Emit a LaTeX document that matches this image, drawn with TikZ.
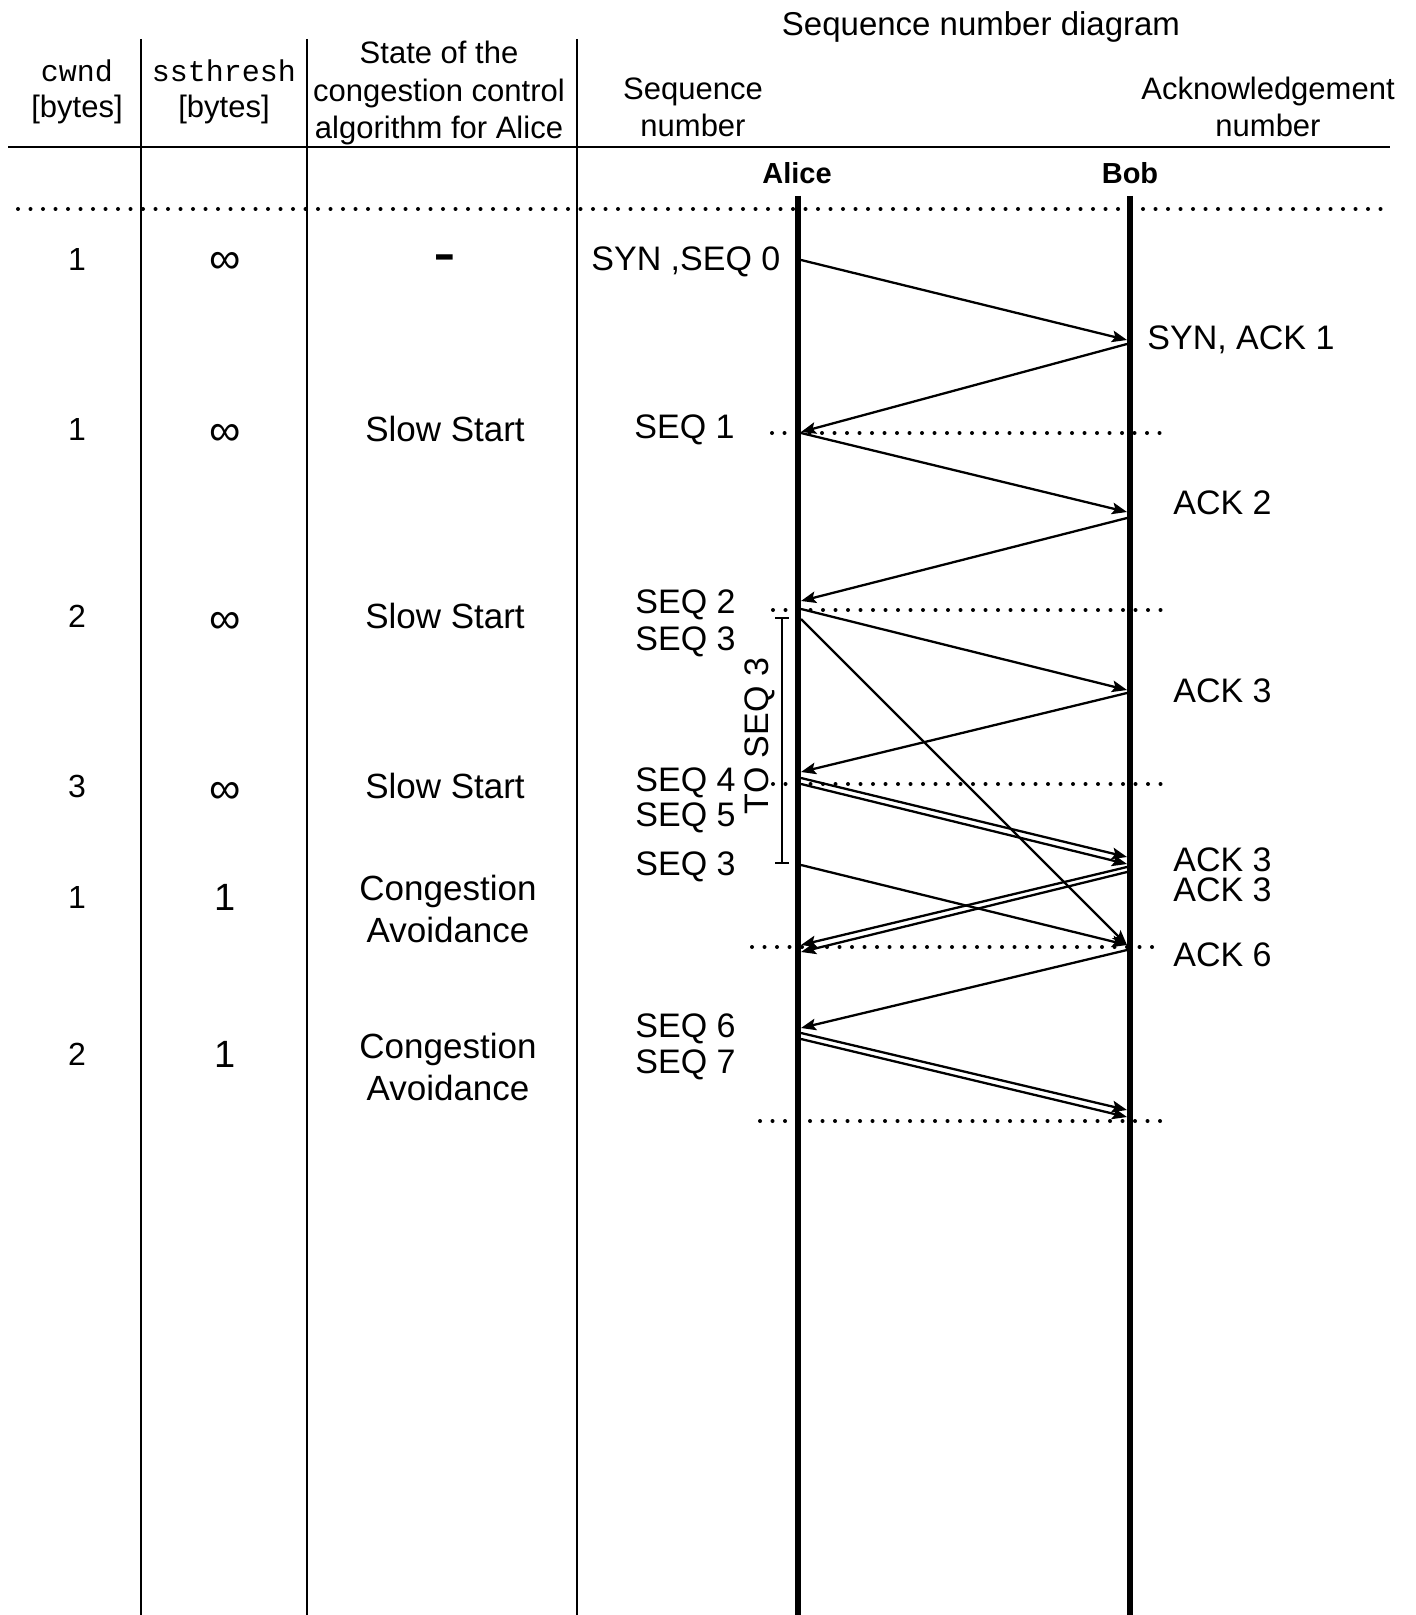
\documentclass[tikz,border=0pt]{standalone}
\usepackage{fontspec}
\setmainfont{Liberation Sans}
\setmonofont{Liberation Mono}
\usetikzlibrary{arrows.meta}
\begin{document}
\begin{tikzpicture}[x=0.5pt,y=-0.5pt,
  colline/.style={line width=1.3pt},
  life/.style={line width=3pt},
  dotrow/.style={line width=2pt, line cap=round, dash pattern=on 0pt off 6.25pt},
  msg/.style={line width=1.15pt, -{Stealth[length=7.5pt,width=5.8pt,inset=1.5pt]}},
  brk/.style={line width=1.1pt, {Bar[width=7pt]}-{Bar[width=7pt]}},
  lbl/.style={font=\fontsize{17}{20}\selectfont, inner sep=0pt},
  hdr/.style={font=\fontsize{15.5}{18.75}\selectfont, align=center, inner sep=0pt},
  hdrtwo/.style={font=\fontsize{15.5}{18.5}\selectfont, align=center, inner sep=0pt},
  monohdr/.style={font=\fontsize{15.5}{18}\selectfont, align=center, inner sep=0pt},
  ttl/.style={font=\fontsize{16.5}{20}\selectfont, inner sep=0pt},
  who/.style={font=\fontsize{14.5}{17}\selectfont\bfseries, inner sep=0pt},
  num/.style={font=\fontsize{16}{19}\selectfont, inner sep=0pt},
  inf/.style={font=\fontsize{22}{24}\selectfont, inner sep=0pt},
  bignum/.style={font=\fontsize{19}{22}\selectfont, inner sep=0pt},
  state/.style={font=\fontsize{17.5}{21}\selectfont, align=center, inner sep=0pt},
  seqlbl/.style={lbl, anchor=west},
  acklbl/.style={lbl, anchor=west}
]
\useasboundingbox (0,0) rectangle (1416,1615);

% ---- table frame ----
\coordinate (c1t) at (141,39);  \coordinate (c1b) at (141,1615);
\coordinate (c2t) at (307,39);  \coordinate (c2b) at (307,1615);
\coordinate (c3t) at (577,39);  \coordinate (c3b) at (577,1615);
\draw[colline] (c1t) -- (c1b);
\draw[colline] (c2t) -- (c2b);
\draw[colline] (c3t) -- (c3b);
\coordinate (hl) at (8,147);  \coordinate (hr) at (1390,147);
\draw[colline] (hl) -- (hr);
\coordinate (dl) at (18,209); \coordinate (dr) at (1390,209);
\draw[dotrow] (dl) -- (dr);

% ---- headers ----
\node[ttl] (title) at (981,27) {Sequence number diagram};
\node[monohdr] (hcwnd) at (77,92) {{\fontsize{15}{18}\selectfont\ttfamily cwnd}\\{[bytes]}};
\node[monohdr] (hss) at (224,92) {{\fontsize{15}{18}\selectfont\ttfamily ssthresh}\\{[bytes]}};
\node[hdr] (hstate) at (439,93) {State of the\\congestion control\\algorithm for Alice};
\node[hdrtwo] (hseq) at (693,107) {Sequence\\number};
\node[hdrtwo] (hack) at (1268,107) {Acknowledgement\\number};
\node[who] (alice) at (797,173) {Alice};
\node[who] (bob) at (1130,173) {Bob};

% ---- lifelines ----
\coordinate (at) at (798,196); \coordinate (ab) at (798,1615);
\coordinate (bt) at (1130,196); \coordinate (bb) at (1130,1615);
\draw[life] (at) -- (ab);
\draw[life] (bt) -- (bb);

% ---- table rows ----
\node[num] (cw1) at (77,259) {1};
\node[num] (cw2) at (77,429) {1};
\node[num] (cw3) at (77,616) {2};
\node[num] (cw4) at (77,786) {3};
\node[num] (cw5) at (77,897) {1};
\node[num] (cw6) at (77,1054) {2};
\node[inf] (ss1) at (225,263) {∞};
\node[inf] (ss2) at (225,435) {∞};
\node[inf] (ss3) at (225,623) {∞};
\node[inf] (ss4) at (225,793) {∞};
\node[bignum] (ss5) at (225,897) {1};
\node[bignum] (ss6) at (225,1054) {1};
\node[font=\fontsize{34}{36}\selectfont, inner sep=0pt, anchor=base] (st0) at (445,276) {-};
\node[state] (st1) at (445,428.5) {Slow Start};
\node[state] (st2) at (445,616) {Slow Start};
\node[state] (st3) at (445,786) {Slow Start};
\node[state] (st4) at (448,909) {Congestion\\Avoidance};
\node[state] (st5) at (448,1067) {Congestion\\Avoidance};

% ---- sequence labels ----
\node[seqlbl] (l0) at (591,262) {SYN ,SEQ 0};
\node[seqlbl] (l1) at (634,430) {SEQ 1};
\node[seqlbl] (l2) at (635,605) {SEQ 2};
\node[seqlbl] (l3) at (635,641.5) {SEQ 3};
\node[seqlbl] (l4) at (635,783) {SEQ 4};
\node[seqlbl] (l5) at (635,818) {SEQ 5};
\node[seqlbl] (l6) at (635,866.5) {SEQ 3};
\node[seqlbl] (l7) at (635,1029) {SEQ 6};
\node[seqlbl] (l8) at (635,1065) {SEQ 7};

% ---- ack labels ----
\node[acklbl] (k0) at (1147,340) {SYN, ACK 1};
\node[acklbl] (k1) at (1173,503) {ACK 2};
\node[acklbl] (k2) at (1173,691) {ACK 3};
\node[acklbl] (k3) at (1173,860) {ACK 3};
\node[acklbl] (k4) at (1173,890) {ACK 3};
\node[acklbl] (k5) at (1173,955) {ACK 6};

% ---- round separators ----
\coordinate (d1l) at (772,433);  \coordinate (d1r) at (1165,433);
\coordinate (d2l) at (773,610);  \coordinate (d2r) at (1167,610);
\coordinate (d3l) at (773,784);  \coordinate (d3r) at (1163,784);
\coordinate (d4l) at (752,947);  \coordinate (d4r) at (1158,947);
\coordinate (d5l) at (760,1121); \coordinate (d5r) at (1167,1121);
\draw[dotrow] (d1l) -- (d1r);
\draw[dotrow] (d2l) -- (d2r);
\draw[dotrow] (d3l) -- (d3r);
\draw[dotrow] (d4l) -- (d4r);
\draw[dotrow] (d5l) -- (d5r);

% ---- timeout ----
\coordinate (tot) at (782,617); \coordinate (tob) at (782,864);
\draw[brk] (tot) -- (tob);
\node[lbl, rotate=90] (tolbl) at (760,736) {TO SEQ 3};

% ---- message points ----
\coordinate (A0) at (801,260);   \coordinate (B0) at (1127,340);
\coordinate (B0r) at (1127,344); \coordinate (A1) at (801,432);
\coordinate (A1s) at (801,433);  \coordinate (B1) at (1127,512);
\coordinate (B1r) at (1127,518); \coordinate (A2) at (801,601);
\coordinate (A2s) at (801,609);  \coordinate (B2) at (1127,690);
\coordinate (A2t) at (801,619);  \coordinate (B5) at (1127,945);
\coordinate (B2r) at (1127,693); \coordinate (A3) at (801,772);
\coordinate (A3s) at (801,778);  \coordinate (B3) at (1127,857);
\coordinate (A3t) at (801,784);  \coordinate (B3b) at (1127,864);
\coordinate (A4) at (801,865);
\coordinate (B3r) at (1127,867); \coordinate (A5) at (801,945);
\coordinate (B3s) at (1127,872); \coordinate (A5b) at (801,952);
\coordinate (B5r) at (1127,950); \coordinate (A6) at (801,1028);
\coordinate (A6s) at (801,1033); \coordinate (B6) at (1127,1110);
\coordinate (A6t) at (801,1039); \coordinate (B6b) at (1127,1117);

% ---- messages ----
\draw[msg] (A0) -- (B0);
\draw[msg] (B0r) -- (A1);
\draw[msg] (A1s) -- (B1);
\draw[msg] (B1r) -- (A2);
\draw[msg] (A2s) -- (B2);
\draw[msg] (A2t) -- (B5);
\draw[msg] (B2r) -- (A3);
\draw[msg] (A3s) -- (B3);
\draw[msg] (A3t) -- (B3b);
\draw[msg] (A4) -- (B5);
\draw[msg] (B3r) -- (A5);
\draw[msg] (B3s) -- (A5b);
\draw[msg] (B5r) -- (A6);
\draw[msg] (A6s) -- (B6);
\draw[msg] (A6t) -- (B6b);
\end{tikzpicture}
\end{document}
